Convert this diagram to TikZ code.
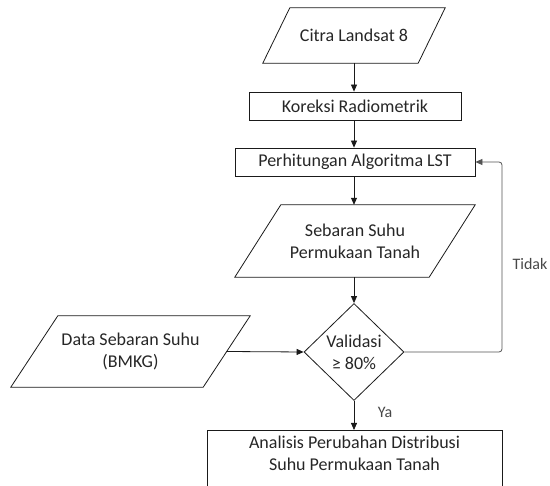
\documentclass[tikz,border=0pt]{standalone}
\usepackage{fontspec}
\setmainfont{Carlito}
\usetikzlibrary{shapes.geometric,arrows.meta,calc}
\definecolor{ink}{HTML}{262626}
\definecolor{wire}{HTML}{1A1A1A}
\tikzset{
  base/.style={text=ink, font=\fontsize{18}{22}\selectfont, align=center, inner sep=0pt},
  procbox/.style={base, draw=wire, line width=0.8pt, rectangle},
  iobox/.style={base, rectangle},
  decbox/.style={base, draw=wire, line width=0.8pt, diamond, minimum width=100pt, minimum height=97pt},
  flow/.style={draw=wire, line width=0.8pt, -{Triangle[length=7pt,width=6pt]}},
  loopflow/.style={draw=wire!75, line width=0.8pt, rounded corners=3pt, -{Triangle[length=7pt,width=6pt]}},
  lbl/.style={text=ink!85, font=\fontsize{16}{19}\selectfont},
  ioline/.style={draw=wire, line width=0.8pt, line join=miter}
}
\newcommand\ioshape[2]{\draw[ioline] ($(#1.south west)+(-#2,0)$) -- ($(#1.north west)+(#2,0)$) -- ($(#1.north east)+(#2,0)$) -- ($(#1.south east)+(-#2,0)$) -- cycle;}
\begin{document}
\begin{tikzpicture}[x=1pt,y=-1pt]
\useasboundingbox (0,0) rectangle (550,486);
\clip (0,0) rectangle (550,486);
% nodes
\node[iobox, minimum width=155pt, minimum height=55pt] (citra) at (354,35.5) {Citra Landsat 8};
\ioshape{citra}{13.5}
\node[procbox, minimum width=212pt, minimum height=28pt] (kor) at (355,106) {Koreksi Radiometrik};
\node[procbox, minimum width=240pt, minimum height=28pt] (per) at (355,162) {Perhitungan Algoritma LST};
\node[iobox, minimum width=194pt, minimum height=72pt] (seb) at (355,241) {Sebaran Suhu\\Permukaan Tanah};
\ioshape{seb}{23}
\node[decbox] (val) at (354,352) {Validasi\\≥ 80\%};
\node[iobox, minimum width=192pt, minimum height=71pt] (data) at (130.5,351.5) {Data Sebaran Suhu\\(BMKG)};
\ioshape{data}{23.5}
\node[procbox, minimum width=295pt, anchor=north, inner ysep=6pt, text depth=40pt] (ana) at (354.5,430) {Analisis Perubahan Distribusi\\Suhu Permukaan Tanah};
\coordinate (bend) at (502,352);
% connectors
\draw[flow] (citra.south -| val.north) -- (kor.north -| val.north);
\draw[flow] (kor.south -| val.north) -- (per.north -| val.north);
\draw[flow] (per.south -| val.north) -- (seb.north -| val.north);
\draw[flow] (seb.south -| val.north) -- (val.north);
\draw[flow] (data.east) -- (val.west);
\draw[flow] (val.south) -- (ana.north -| val.south);
\draw[loopflow] (val.east) -- (bend) -- (bend |- per.east) -- (per.east);
% labels
\node[lbl] (tidak) at (530,264) {Tidak};
\node[lbl] (ya) at (385,412) {Ya};
\end{tikzpicture}
\end{document}
